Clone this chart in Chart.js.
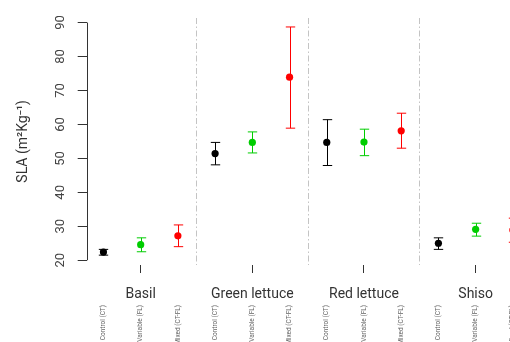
<!DOCTYPE html>
<html>
<head>
<meta charset="utf-8">
<script src="https://cdn.jsdelivr.net/npm/chart.js@4.4.1/dist/chart.umd.min.js"></script>
<style>
  html, body { margin: 0; padding: 0; overflow: hidden; background: #fff; }
  #wrap { width: 550px; height: 380px; }
</style>
</head>
<body>
<div id="wrap"><canvas id="c" width="550" height="380"></canvas></div>
<script>
// Crops and light treatments
const crops = ['Basil', 'Green lettuce', 'Red lettuce', 'Shiso'];
const treatments = ['Control (CT)', 'Variable (FL)', 'Mixed (CT-FL)'];

// Mean SLA per crop, with lower / upper error limits
const controlMean  = [22.4, 51.4, 54.7, 25.0];
const controlLow   = [21.5, 48.1, 47.9, 23.2];
const controlHigh  = [23.2, 54.7, 61.4, 26.6];

const variableMean = [24.6, 54.7, 54.8, 29.1];
const variableLow  = [22.5, 51.6, 50.8, 27.1];
const variableHigh = [26.6, 57.8, 58.6, 30.9];

const mixedMean    = [27.2, 73.9, 58.1, 28.9];
const mixedLow     = [24.0, 58.9, 53.0, 25.3];
const mixedHigh    = [30.4, 88.7, 63.3, 32.4];

const yTicks = [20, 30, 40, 50, 60, 70, 80, 90];

const treatmentColors = ['#000000', '#00CD00', '#FF0000'];

// x position of a point: three slots per crop
const slot = (crop, t) => crop * 3 + t;
const slots = [];
crops.forEach((_, c) => treatments.forEach((_, t) => slots.push(slot(c, t))));
const cropCentres = crops.map((_, c) => slot(c, 1));
const dividers = crops.slice(1).map((_, c) => slot(c, 2) + 0.5);

const X_MIN = -0.45, X_MAX = 11.45;

const series = [
  { mean: controlMean,  low: controlLow,  high: controlHigh },
  { mean: variableMean, low: variableLow, high: variableHigh },
  { mean: mixedMean,    low: mixedLow,    high: mixedHigh }
];

const datasets = series.map((s, t) => ({
  label: treatments[t],
  data: s.mean.map((m, c) => ({ x: slot(c, t), y: m })),
  backgroundColor: treatmentColors[t],
  borderColor: treatmentColors[t],
  pointRadius: 3.6,
  pointBorderWidth: 0,
  showLine: false
}));

// Error bars with caps, and the y axis line spanning the labelled range
const whiskers = {
  id: 'whiskers',
  beforeDatasetsDraw(chart) {
    const { ctx } = chart;
    const xs = chart.scales.x, ys = chart.scales.y;
    const cap = 4.7;
    ctx.save();
    ctx.lineWidth = 1;
    series.forEach((s, t) => {
      ctx.strokeStyle = treatmentColors[t];
      s.mean.forEach((_, c) => {
        const px = Math.round(xs.getPixelForValue(slot(c, t))) + 0.5;
        const lo = ys.getPixelForValue(s.low[c]);
        const hi = ys.getPixelForValue(s.high[c]);
        ctx.beginPath();
        ctx.moveTo(px, lo); ctx.lineTo(px, hi);
        ctx.moveTo(px - cap, lo); ctx.lineTo(px + cap, lo);
        ctx.moveTo(px - cap, hi); ctx.lineTo(px + cap, hi);
        ctx.stroke();
      });
    });
    ctx.strokeStyle = '#333';
    const ax = Math.round(chart.chartArea.left) + 0.5;
    ctx.beginPath();
    ctx.moveTo(ax, ys.getPixelForValue(yTicks[0]));
    ctx.lineTo(ax, ys.getPixelForValue(yTicks[yTicks.length - 1]));
    ctx.stroke();
    ctx.restore();
  }
};

new Chart(document.getElementById('c'), {
  type: 'scatter',
  data: { datasets },
  plugins: [whiskers],
  options: {
    responsive: false,
    animation: false,
    devicePixelRatio: 1,
    layout: { padding: { top: 13.5, right: 20.4, left: 0, bottom: 0 } },
    plugins: { legend: { display: false }, tooltip: { enabled: false } },
    scales: {
      x: {
        type: 'linear', position: 'bottom', weight: 1,
        min: X_MIN, max: X_MAX,
        afterBuildTicks: s => { s.ticks = slots.map(v => ({ value: v })); },
        afterFit: s => { s.height = 80; },
        ticks: {
          autoSkip: false, minRotation: 90, maxRotation: 90, padding: -3,
          font: { family: 'Roboto', size: 6.5 }, color: '#666',
          callback: v => treatments[Math.round(v) % 3]
        },
        grid: { display: false },
        border: { display: false }
      },
      xg: {
        type: 'linear', position: 'bottom', weight: 0,
        min: X_MIN, max: X_MAX,
        afterBuildTicks: s => { s.ticks = cropCentres.map(v => ({ value: v })); },
        afterFit: s => { s.height = 35; },
        ticks: {
          autoSkip: false, minRotation: 0, maxRotation: 0, padding: 13,
          font: { family: 'Roboto', size: 14 }, color: '#333',
          callback: v => crops[Math.round((v - 1) / 3)]
        },
        grid: { drawOnChartArea: false, drawTicks: true, tickLength: 8, tickColor: '#333', tickWidth: 1 },
        border: { display: false }
      },
      xd: {
        type: 'linear', position: 'top',
        min: X_MIN, max: X_MAX,
        afterBuildTicks: s => { s.ticks = dividers.map(v => ({ value: v })); },
        afterFit: s => { s.height = 0; },
        ticks: { display: false },
        grid: { color: '#c4c4c4', lineWidth: 1, drawTicks: false },
        border: { display: false, dash: [6, 2.5, 1.5, 2.5] }
      },
      y: {
        type: 'linear', position: 'left',
        min: 18.6, max: 91.4,
        afterBuildTicks: s => { s.ticks = yTicks.map(v => ({ value: v })); },
        afterFit: s => { s.width = 86.7; },
        ticks: {
          minRotation: 90, maxRotation: 90, crossAlign: 'center', padding: 10,
          font: { family: 'Roboto', size: 13 }, color: '#444'
        },
        grid: { drawOnChartArea: false, drawTicks: true, tickLength: 9, tickColor: '#333', tickWidth: 1 },
        border: { display: false },
        title: {
          display: true, text: 'SLA (m²Kg⁻¹)',
          font: { family: 'Roboto', size: 14 }, color: '#333',
          padding: { top: 15, bottom: 0 }
        }
      }
    }
  }
});
</script>
</body>
</html>
